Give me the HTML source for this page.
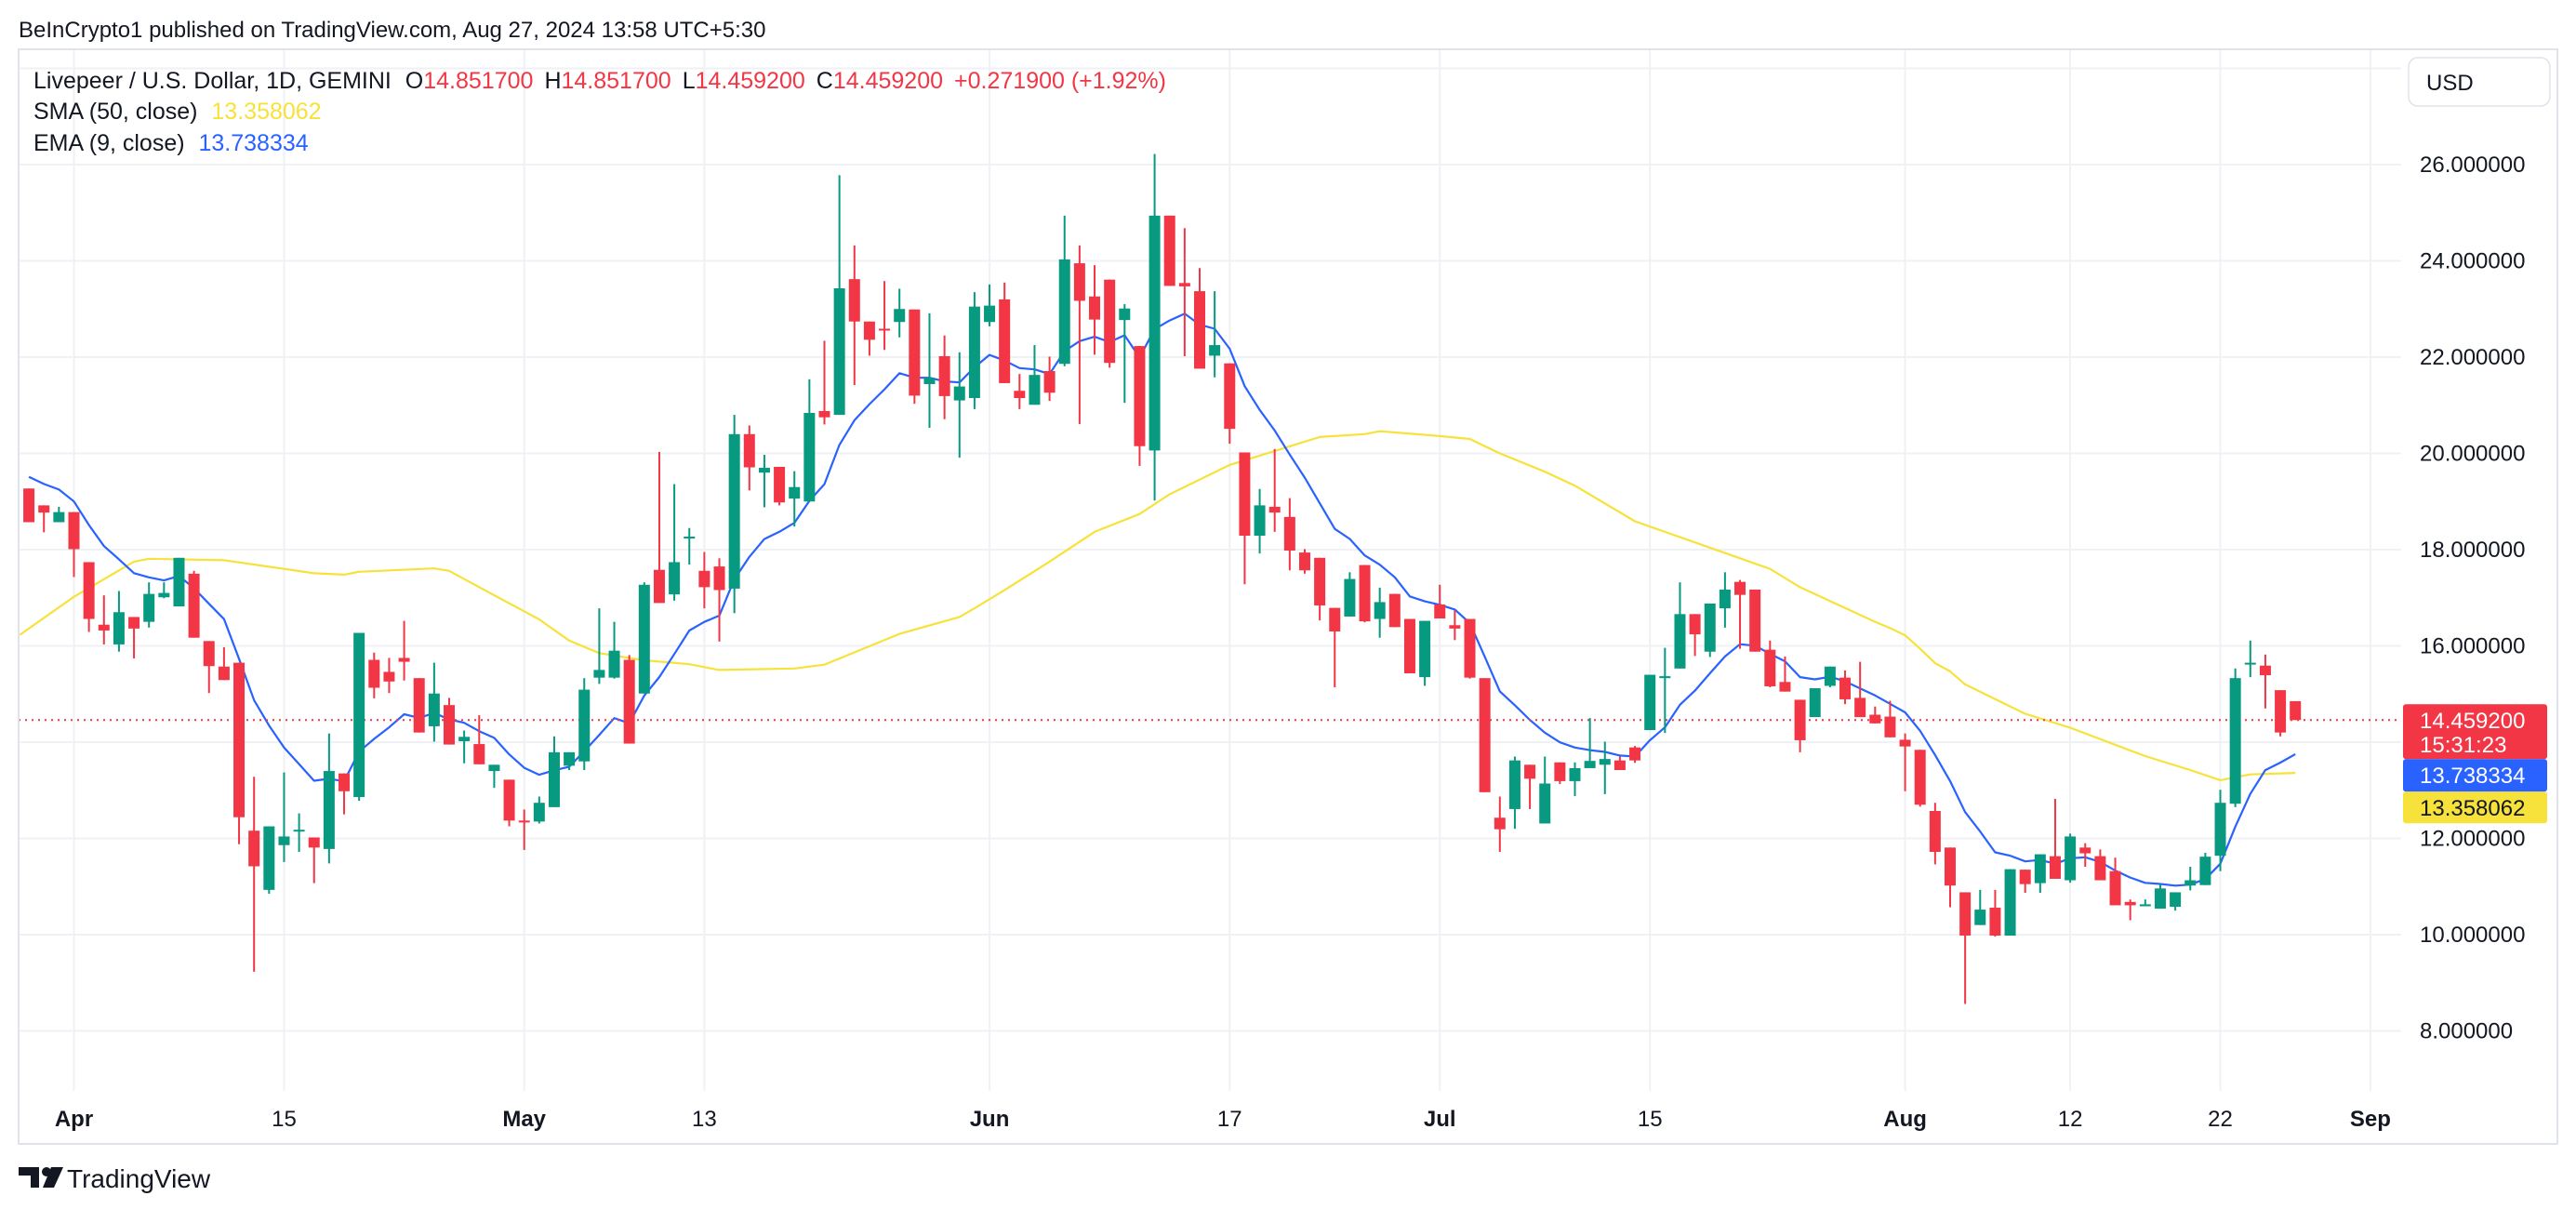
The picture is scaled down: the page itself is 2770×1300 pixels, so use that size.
<!DOCTYPE html>
<html><head><meta charset="utf-8"><style>
html,body{margin:0;padding:0;background:#fff;}
svg{display:block;font-family:"Liberation Sans",sans-serif;}
</style></head>
<body>
<svg id="chart" width="2770" height="1300" viewBox="0 0 2770 1300" xmlns="http://www.w3.org/2000/svg">
  <rect x="0" y="0" width="2770" height="1300" fill="#ffffff"/>
  <text x="20" y="40" font-size="24" fill="#131722">BeInCrypto1 published on TradingView.com, Aug 27, 2024 13:58 UTC+5:30</text>
  <g id="grid"></g>
  <g id="ma"></g>
  <g id="candles"></g>
  <rect x="20" y="53" width="2730" height="1177" fill="none" stroke="#e0e3eb" stroke-width="2"/>
  <g>
    <text x="36" y="95" font-size="25" fill="#131722">Livepeer / U.S. Dollar, 1D, GEMINI  <tspan dx="8">O</tspan><tspan fill="#f23645">14.851700</tspan><tspan dx="12">H</tspan><tspan fill="#f23645">14.851700</tspan><tspan dx="12">L</tspan><tspan fill="#f23645">14.459200</tspan><tspan dx="12">C</tspan><tspan fill="#f23645">14.459200</tspan><tspan dx="12" fill="#f23645">+0.271900 (+1.92%)</tspan></text>
    <text x="36" y="128" font-size="25" fill="#131722">SMA (50, close) <tspan dx="8" fill="#f7e23b">13.358062</tspan></text>
    <text x="36" y="162" font-size="25" fill="#131722">EMA (9, close) <tspan dx="8" fill="#2962ff">13.738334</tspan></text>
  </g>
  <g>
    <rect x="2590" y="62" width="152" height="52" rx="10" fill="#fff" stroke="#e0e3eb" stroke-width="1.5"/>
    <text x="2609" y="97" font-size="24" fill="#131722">USD</text>
  </g>
  <g id="yaxis"></g>
  <g id="xaxis"></g>
  <g id="labels"></g>
  <g>
    <path d="M20 1255 h22 v22 h-9 v-13 h-13z" fill="#131722"/>
    <circle cx="50" cy="1260" r="5" fill="#131722"/>
    <path d="M55 1255 h13 l-10 22 h-12z" fill="#131722"/>
    <text x="72" y="1277" font-size="28" fill="#131722">TradingView</text>
  </g>
</svg>
<script>
const startDay = -3;
const opens = [19.27,18.92,18.57,18.78,17.74,16.44,16.03,16.60,16.50,17.01,16.82,17.50,16.10,15.57,15.65,12.16,10.93,11.86,12.16,12.02,11.78,13.35,12.86,15.71,15.46,15.75,15.33,14.33,14.77,14.02,13.96,13.40,13.22,12.37,12.35,12.65,13.51,13.60,15.34,15.34,15.71,15.01,17.58,17.07,18.23,17.56,17.65,17.19,20.40,19.60,19.72,19.06,19.00,20.88,20.80,23.62,22.74,22.59,22.73,22.99,21.44,22.02,21.10,21.15,22.73,23.20,21.30,21.01,21.71,21.86,23.95,23.26,23.61,22.77,22.23,20.06,24.94,23.54,23.37,22.03,21.87,20.02,18.29,18.89,18.68,17.94,17.83,16.79,16.61,17.68,16.56,17.08,16.56,15.35,16.86,16.43,16.56,15.33,12.43,12.61,13.53,12.31,13.58,13.19,13.46,13.53,13.62,13.89,14.25,15.33,15.53,16.66,15.88,16.78,17.33,17.17,15.92,15.25,14.88,14.52,15.17,15.34,14.92,14.57,14.53,14.05,13.84,12.57,11.81,10.88,10.20,10.56,9.98,11.35,11.07,11.63,11.13,11.81,11.63,11.32,10.68,10.59,10.54,10.58,11.02,11.03,11.64,12.72,15.63,15.59,15.08,14.8517];
const highs = [19.27,18.92,18.89,18.78,17.74,17.05,17.14,16.60,17.32,17.32,17.83,17.56,16.10,15.97,15.65,13.28,12.25,13.37,12.52,12.02,14.18,13.35,16.27,15.86,15.75,16.52,15.33,15.65,14.92,14.24,14.56,13.53,13.22,12.60,12.87,14.12,13.79,15.33,16.78,16.50,15.81,17.32,20.03,19.36,18.45,17.95,17.82,20.80,20.58,19.97,19.72,19.63,21.54,22.34,25.78,24.32,22.74,23.58,23.42,22.99,22.91,22.45,22.10,23.35,23.51,23.55,21.65,22.25,22.01,24.94,24.32,23.91,23.61,23.10,22.23,26.22,24.94,24.68,23.85,23.37,21.87,20.02,19.26,20.09,19.07,18.01,17.83,16.79,17.53,17.68,17.21,17.08,16.56,16.52,17.27,16.74,16.56,15.33,12.87,13.70,13.53,13.70,13.58,13.58,14.50,14.01,13.70,13.92,15.40,15.96,17.32,16.66,16.88,17.53,17.37,17.17,16.11,15.78,14.88,15.12,15.57,15.49,15.67,14.74,14.86,14.18,13.84,12.74,11.81,10.88,10.93,10.93,11.36,11.35,11.67,12.82,12.10,11.90,11.77,11.60,10.73,10.73,11.05,10.88,11.41,11.70,13.01,15.53,16.11,15.82,15.08,14.8517];
const lows = [18.57,18.36,18.57,17.43,16.29,16.03,15.88,15.74,16.38,16.99,16.82,16.17,15.02,15.29,11.88,9.23,10.85,11.51,11.72,11.07,11.48,12.50,12.78,14.91,15.02,15.28,14.20,14.01,13.95,13.56,13.54,13.05,12.25,11.76,12.31,12.65,13.42,13.42,15.21,15.32,13.97,15.01,16.89,16.94,17.69,16.78,16.09,16.68,19.23,18.88,18.92,18.48,19.00,20.60,20.80,21.42,22.03,22.15,22.41,21.03,20.53,20.71,19.91,20.92,22.64,21.46,20.92,21.01,21.09,21.81,20.61,22.05,21.78,21.05,19.74,19.02,23.48,22.02,21.76,21.58,20.20,17.28,17.92,18.37,17.57,17.50,16.53,15.14,16.61,16.49,16.17,16.39,15.43,15.17,16.57,16.12,15.32,12.96,11.72,12.20,12.61,12.31,13.13,12.88,13.46,12.92,13.42,13.57,14.25,14.19,15.53,15.79,15.77,16.38,15.94,15.88,15.14,15.05,13.79,14.52,15.14,14.79,14.52,14.39,14.10,12.98,12.66,11.46,10.57,8.56,10.20,9.96,9.98,10.87,10.87,11.16,11.08,11.41,11.13,10.61,10.30,10.59,10.54,10.50,10.92,11.03,11.32,12.65,15.35,14.70,14.12,14.4592];
const closes = [18.57,18.77,18.78,18.01,16.56,16.32,16.70,16.36,17.08,17.10,17.83,16.17,15.58,15.29,12.44,11.42,12.25,12.04,12.18,11.81,13.40,12.98,16.27,15.13,15.26,15.67,14.20,15.01,13.95,14.11,13.54,13.53,12.37,12.35,12.74,13.79,13.79,15.09,15.50,15.90,13.97,17.27,16.89,17.74,18.27,17.22,17.16,20.40,19.71,19.70,18.98,19.30,20.84,20.75,23.43,22.74,22.36,22.57,23.00,21.20,21.57,21.19,21.39,23.05,23.07,21.46,21.15,21.63,21.26,24.03,23.17,22.78,21.88,23.01,20.15,24.94,23.48,23.47,21.76,22.25,20.51,18.29,18.92,18.77,17.98,17.57,16.84,16.30,17.39,16.51,16.91,16.39,15.43,16.52,16.57,16.36,15.34,12.96,12.19,13.62,13.24,13.14,13.19,13.46,13.61,13.65,13.42,13.62,15.40,15.37,16.66,16.24,16.88,17.17,17.06,15.88,15.16,15.05,14.04,15.12,15.57,14.89,14.52,14.39,14.10,13.91,12.70,11.72,11.02,9.98,10.52,9.98,11.36,11.05,11.67,11.16,12.04,11.69,11.13,10.61,10.61,10.63,10.96,10.88,11.13,11.62,12.74,15.33,15.65,15.39,14.20,14.4592];
const emaSeed = 19.75;
const smaDays = [-3.6,0,4,5,10,16,18,19,24,25,27,31,33,35,38,41,43,48,50,55,59,60,62,65,68,71,73,77,80,83,86,87,91,93,95,98,100,104,106,109,113,115,120,121,122,123,124,125,126,130,133,138,141,143,145,148];
const smaVals = [16.23,17.02,17.75,17.81,17.78,17.51,17.48,17.54,17.61,17.56,17.22,16.55,16.11,15.85,15.70,15.62,15.50,15.53,15.61,16.25,16.60,16.78,17.16,17.75,18.37,18.74,19.15,19.76,20.05,20.34,20.40,20.46,20.36,20.30,20.00,19.62,19.33,18.59,18.37,18.04,17.60,17.22,16.50,16.37,16.22,15.94,15.64,15.47,15.20,14.59,14.30,13.71,13.42,13.21,13.33,13.36];
const priceTicks = [8,10,12,14,16,18,20,22,24,26,28];
const timeTickDays = [0,14,30,42,61,77,91,105,122,133,143,153];
const timeTickLabels = ["Apr","15","May","13","Jun","17","Jul","15","Aug","12","22","Sep"];
const timeTickBold = [true,false,true,false,true,false,true,false,true,false,false,true];
const lastPrice = 14.4592;
const emaLast = "13.738334", smaLast = "13.358062";

const NS = "http://www.w3.org/2000/svg";
const PL = 20, PR = 2582, PT = 53, PB = 1173;
function xOf(d){ return 79.5 + 16.14 * d; }
function yOf(p){ return 177 + (26 - p) * 51.75; }
function mk(tag, attrs, parent){ const e = document.createElementNS(NS, tag); for (const k in attrs) e.setAttribute(k, attrs[k]); parent.appendChild(e); return e; }

const grid = document.getElementById('grid');
priceTicks.forEach(p => {
  const l = mk('line', {x1:PL, x2:PR, y1:yOf(p), y2:yOf(p), stroke:'#f0f1f4', 'stroke-width':2}, grid);
  
  
});
timeTickDays.forEach(d => {
  const l = mk('line', {x1:xOf(d), x2:xOf(d), y1:PT, y2:PB, stroke:'#f0f1f4', 'stroke-width':2}, grid);
  
  
});

const yaxis = document.getElementById('yaxis');
priceTicks.forEach(p => {
  if (p > 26) return;
  const t = mk('text', {x:2602, y:yOf(p)+8, 'font-size':24, fill:'#131722'}, yaxis);
  t.textContent = p.toFixed(6);
  
  
});
const xaxis = document.getElementById('xaxis');
timeTickDays.forEach((d, i) => {
  const t = mk('text', {x:xOf(d), y:1211, 'font-size':24, fill:'#131722', 'text-anchor':'middle', 'font-weight': timeTickBold[i] ? 'bold' : 'normal'}, xaxis);
  t.textContent = timeTickLabels[i];
  
  
});

// clip
const defs = mk('defs', {}, document.getElementById('chart'));
const cp = mk('clipPath', {id:'plotclip'}, defs);
mk('rect', {x:PL, y:PT, width:PR-PL, height:PB-PT}, cp);

const ma = document.getElementById('ma');
ma.setAttribute('clip-path', 'url(#plotclip)');
// SMA
let sp = smaDays.map((d, i) => xOf(d).toFixed(1) + ',' + yOf(smaVals[i]).toFixed(1)).join(' ');
const sma = mk('polyline', {points:sp, fill:'none', stroke:'#f7e23b', 'stroke-width':2.2, 'stroke-linejoin':'round'}, ma);


// EMA computed from closes
let e = emaSeed; const ep = [];
closes.forEach((c, i) => { e = e + (c - e) * 0.2; ep.push(xOf(startDay + i).toFixed(1) + ',' + yOf(e).toFixed(1)); });
const ema = mk('polyline', {points:ep.join(' '), fill:'none', stroke:'#2962ff', 'stroke-width':2.2, 'stroke-linejoin':'round'}, ma);



// dotted last price line
const dl = mk('line', {x1:PL, x2:PR, y1:yOf(lastPrice), y2:yOf(lastPrice), stroke:'#f23645', 'stroke-width':2, 'stroke-dasharray':'2 5'}, ma);



const cg = document.getElementById('candles');
cg.setAttribute('clip-path', 'url(#plotclip)');
opens.forEach((o, i) => {
  const c = closes[i], h = highs[i], l = lows[i];
  const x = xOf(startDay + i);
  const col = c >= o ? '#089981' : '#f23645';
  const g = mk('g', {}, cg);
  
  
  mk('rect', {x:x-1, y:yOf(h), width:2, height:Math.max(1, yOf(l)-yOf(h)), fill:col}, g);
  const top = yOf(Math.max(o, c)), bot = yOf(Math.min(o, c));
  mk('rect', {x:x-6, y:top, width:12, height:Math.max(2, bot-top), fill:col}, g);
});

// price labels
const lab = document.getElementById('labels');
const yl = yOf(lastPrice);
const r1 = mk('g', {}, lab);


mk('rect', {x:2584, y:yl-17, width:155, height:59, rx:3, fill:'#f23645'}, r1);
const t1 = mk('text', {x:2602, y:yl+9, 'font-size':24, fill:'#fff'}, r1); t1.textContent = lastPrice.toFixed(6);
const t2 = mk('text', {x:2602, y:yl+35, 'font-size':24, fill:'#fff'}, r1); t2.textContent = '15:31:23';
const r2 = mk('g', {}, lab);


mk('rect', {x:2584, y:yl+42, width:155, height:35, rx:3, fill:'#2962ff'}, r2);
const t3 = mk('text', {x:2602, y:yl+68, 'font-size':24, fill:'#fff'}, r2); t3.textContent = emaLast;
const r3 = mk('g', {}, lab);


mk('rect', {x:2584, y:yl+77, width:155, height:34, rx:3, fill:'#f7e23b'}, r3);
const t4 = mk('text', {x:2602, y:yl+103, 'font-size':24, fill:'#131722'}, r3); t4.textContent = smaLast;
</script>
</body></html>
